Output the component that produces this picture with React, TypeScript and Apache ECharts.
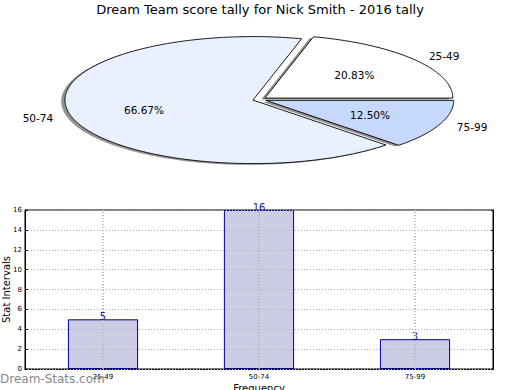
import React, { useEffect, useRef } from "react";
import * as echarts from "echarts";

const TITLE = "Dream Team score tally for Nick Smith - 2016 tally";
const categories = ["25-49", "50-74", "75-99"];
const counts = [5, 16, 3];
const pieColors = ["#ffffff", "#eaf1fe", "#c6d9fd"];
const yMax = 16;
const yInterval = 2;
const FONT = "DejaVu Sans";

export default function App() {
  const ref = useRef<HTMLDivElement>(null);
  useEffect(() => {
    if (!ref.current) return;
    const chart = echarts.init(ref.current, undefined, { renderer: "svg" });
    const total = counts.reduce((a, b) => a + b, 0);
    const CX = 259.5, CY = 99.5, RX = 188, RY = 63.5, EXPLODE = 0.036;
    const SHX = -0.02 * RX, SHY = 0.02 * RY;

    const renderPie = (params: any, api: any) => {
      const i = params.dataIndex;
      const v = api.value(1);
      let before = 0;
      for (let k = 0; k < i; k++) before += counts[k];
      const a0 = (before / total) * 360;
      const a1 = ((before + v) / total) * 360;
      const mid = ((a0 + a1) / 2) * Math.PI / 180;
      const cx = CX + EXPLODE * RX * Math.cos(mid);
      const cy = CY - EXPLODE * RY * Math.sin(mid);
      const pts: number[][] = [[cx, cy]];
      const steps = Math.max(8, Math.ceil(a1 - a0));
      for (let s = 0; s <= steps; s++) {
        const t = (a0 + ((a1 - a0) * s) / steps) * Math.PI / 180;
        pts.push([cx + RX * Math.cos(t), cy - RY * Math.sin(t)]);
      }
      const shadowPts = pts.map((p) => [p[0] + SHX, p[1] + SHY]);
      const pct = ((v / total) * 100).toFixed(2) + "%";
      const cosm = Math.cos(mid), sinm = Math.sin(mid);
      return {
        type: "group",
        children: [
          {
            type: "polygon",
            z2: 0,
            shape: { points: shadowPts },
            style: { fill: "rgba(60,60,60,0.55)", stroke: "none" },
          },
          {
            type: "polygon",
            z2: 10,
            shape: { points: pts },
            style: { fill: pieColors[i], stroke: "#000", lineWidth: 0.9 },
          },
          {
            type: "text",
            z2: 20,
            x: cx + 0.6 * RX * cosm,
            y: cy - 0.6 * RY * sinm,
            style: {
              text: pct,
              fontSize: 10.5,
              fontFamily: FONT,
              fill: "#000",
              align: "center",
              verticalAlign: "middle",
            },
          },
          {
            type: "text",
            z2: 20,
            x: cx + 1.1 * RX * cosm,
            y: cy - 1.1 * RY * sinm,
            style: {
              text: categories[i],
              fontSize: 10.5,
              fontFamily: FONT,
              fill: "#000",
              align: cosm >= 0 ? "left" : "right",
              verticalAlign: "middle",
            },
          },
        ],
      };
    };

    chart.setOption({
      animation: false,
      textStyle: { fontFamily: FONT },
      title: {
        text: TITLE,
        left: "center",
        top: 3,
        padding: 0,
        textStyle: { fontSize: 13, fontWeight: "normal", color: "#000", fontFamily: FONT },
      },
      grid: {
        left: 25,
        right: 27,
        top: 210,
        bottom: 21,
        show: true,
        borderColor: "#000",
        borderWidth: 1,
        containLabel: false,
        outerBoundsMode: "none",
      },
      xAxis: [
        {
          type: "category",
          data: categories,
          boundaryGap: true,
          name: "Frequency",
          nameLocation: "middle",
          nameGap: 14,
          nameMoveOverlap: false,
          nameTextStyle: { fontSize: 10, color: "#000", fontFamily: FONT },
          axisLine: { lineStyle: { color: "#000", width: 1 } },
          axisTick: { inside: true, alignWithLabel: true, length: 3, lineStyle: { color: "#000" } },
          axisLabel: { fontSize: 7, color: "#000", margin: 4, fontFamily: FONT },
          splitLine: { show: false },
        },
        {
          type: "category",
          data: categories,
          position: "top",
          boundaryGap: true,
          axisLine: { lineStyle: { color: "#000", width: 1 } },
          axisTick: { inside: true, alignWithLabel: true, length: 3, lineStyle: { color: "#000" } },
          axisLabel: { show: false },
          splitLine: { show: false },
        },
      ],
      yAxis: [
        {
          type: "value",
          min: 0,
          max: yMax,
          interval: yInterval,
          z: 5,
          name: "Stat Intervals",
          nameLocation: "middle",
          nameGap: 14,
          nameRotate: 90,
          nameMoveOverlap: false,
          nameTextStyle: { fontSize: 10, color: "#000", fontFamily: FONT },
          axisLine: { show: true, lineStyle: { color: "#000", width: 1 } },
          axisTick: { show: true, inside: true, length: 3, lineStyle: { color: "#000" } },
          axisLabel: { fontSize: 7, color: "#000", margin: 3, fontFamily: FONT },
          splitLine: { show: true, lineStyle: { color: "#b0b0b0", type: [1, 2], width: 1 } },
        },
        {
          type: "value",
          min: 0,
          max: yMax,
          interval: yInterval,
          position: "right",
          axisLine: { show: true, lineStyle: { color: "#000", width: 1 } },
          axisTick: { show: true, inside: true, length: 3, lineStyle: { color: "#000" } },
          axisLabel: { show: false },
          splitLine: { show: false },
        },
      ],
      graphic: [
        {
          type: "text",
          x: 0,
          y: 373,
          z: 100,
          style: { text: "Dream-Stats.com", fontSize: 12, fontFamily: FONT, fill: "#888888" },
        },
      ],
      series: [
        {
          type: "custom",
          coordinateSystem: "none",
          silent: true,
          data: counts.map((v, i) => [i, v]),
          renderItem: renderPie,
        },
        {
          type: "bar",
          xAxisIndex: 0,
          yAxisIndex: 0,
          data: counts,
          barWidth: "45%",
          itemStyle: { color: "#ccccE5", borderColor: "#000099", borderWidth: 1 },
          label: {
            show: true,
            position: "top",
            distance: -2,
            fontSize: 10,
            color: "#1a1a9e",
            fontFamily: FONT,
          },
          markLine: {
            silent: true,
            symbol: "none",
            label: { show: false },
            lineStyle: { color: "#b0b0b0", type: [1, 2], width: 1.5 },
            data: categories.map((c) => ({ xAxis: c })),
          },
        },
      ],
    });
    return () => chart.dispose();
  }, []);
  return (
    <div
      ref={ref}
      style={{ position: "absolute", left: 0, top: 0, width: 520, height: 390 }}
    />
  );
}
